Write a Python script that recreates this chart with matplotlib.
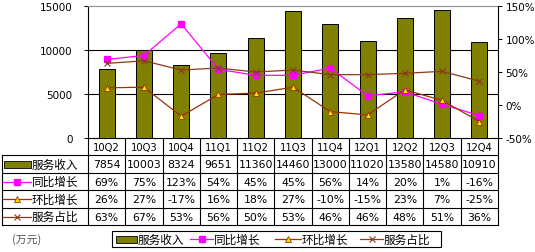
import matplotlib
matplotlib.use("Agg")
import matplotlib.pyplot as plt
from matplotlib.lines import Line2D
from matplotlib.patches import Rectangle
from matplotlib.ticker import FuncFormatter

quarters = ["10Q2", "10Q3", "10Q4", "11Q1", "11Q2", "11Q3", "11Q4", "12Q1", "12Q2", "12Q3", "12Q4"]
service_income = [7854, 10003, 8324, 9651, 11360, 14460, 13000, 11020, 13580, 14580, 10910]
yoy_growth = [69, 75, 123, 54, 45, 45, 56, 14, 20, 1, -16]
qoq_growth = [26, 27, -17, 16, 18, 27, -10, -15, 23, 7, -25]
service_share = [63, 67, 53, 56, 50, 53, 46, 46, 48, 51, 36]
series_names = ["服务收入", "同比增长", "环比增长", "服务占比"]
unit_label = "(万元)"

W, H = 535, 253
OLIVE = "#808000"
MAGENTA = "#FF00FF"
BROWN = "#993300"
BROWN2 = "#8B3A1A"
YELLOW = "#FFE000"
CJK = ["Noto Sans CJK SC", "DejaVu Sans"]
NUM = ["Liberation Sans Narrow", "DejaVu Sans"]

fig = plt.figure(figsize=(W / 100, H / 100), dpi=100)
fig.patch.set_facecolor("white")


def fx(x):
    return x / W


def fy(y):
    return 1 - y / H


left, right, top, bottom = 88, 498, 7, 139
ax = fig.add_axes([fx(left), fy(bottom), (right - left) / W, (bottom - top) / H])
n = len(quarters)
xs = list(range(n))

ax.bar(xs, service_income, width=0.43, color=OLIVE, edgecolor="black", linewidth=0.7, zorder=3)
ax.set_xlim(-0.5, n - 0.5)
ax.set_ylim(0, 15000)
ax.set_yticks([0, 5000, 10000, 15000])
ax.set_xticks([])
for v in (5000, 10000):
    ax.axhline(v, color="black", linewidth=0.8, zorder=1)
ax.tick_params(axis="y", labelsize=7.5, length=3, width=0.7, pad=8, colors="black")
for lab in ax.get_yticklabels():
    lab.set_family(["DejaVu Sans"])
ax.spines["top"].set_color("#909090")
ax.spines["right"].set_visible(False)
for s in ("left", "bottom"):
    ax.spines[s].set_linewidth(0.8)

ax2 = ax.twinx()
ax2.set_ylim(-50, 150)
ax2.set_yticks([-50, 0, 50, 100, 150])
ax2.yaxis.set_major_formatter(FuncFormatter(lambda v, p: f"{int(v)}%"))
ax2.tick_params(axis="y", labelsize=7.5, length=3, width=0.7, pad=2.5)
for s in ("top", "left", "bottom"):
    ax2.spines[s].set_visible(False)
ax2.spines["right"].set_linewidth(0.8)

ax2.plot(xs, yoy_growth, color=MAGENTA, linewidth=0.9, marker="s", markersize=5,
         markerfacecolor=MAGENTA, markeredgecolor=MAGENTA, zorder=5)
ax2.plot(xs, qoq_growth, color=BROWN, linewidth=0.9, marker="^", markersize=4.5,
         markerfacecolor=YELLOW, markeredgecolor=BROWN, markeredgewidth=0.6, zorder=5)
ax2.plot(xs, service_share, color=BROWN2, linewidth=0.9, marker="x", markersize=4,
         markeredgecolor=BROWN2, markeredgewidth=0.8, zorder=5)


# data table under the plot
def hline(y, x0, x1, lw=0.8, color="black"):
    fig.add_artist(Line2D([fx(x0), fx(x1)], [fy(y), fy(y)], transform=fig.transFigure,
                          color=color, linewidth=lw))


def vline(x, y0, y1, lw=0.8, color="black"):
    fig.add_artist(Line2D([fx(x), fx(x)], [fy(y0), fy(y1)], transform=fig.transFigure,
                          color=color, linewidth=lw))


col_w = (right - left) / n
row_edges = [156, 174, 191, 209, 226]
tab_left = 2

for y in row_edges:
    hline(y, tab_left, right)
vline(tab_left, row_edges[0], row_edges[-1])
for k in range(n + 1):
    vline(left + k * col_w, bottom, row_edges[-1])

for k, q in enumerate(quarters):
    fig.text(fx(left + (k + 0.5) * col_w), fy((bottom + row_edges[0]) / 2 + 0.5), q,
             ha="center", va="center", fontsize=7.2, family=["DejaVu Sans"])

rows = [
    [str(v) for v in service_income],
    [f"{v}%" for v in yoy_growth],
    [f"{v}%" for v in qoq_growth],
    [f"{v}%" for v in service_share],
]
for r, vals in enumerate(rows):
    yc = (row_edges[r] + row_edges[r + 1]) / 2
    for k, t in enumerate(vals):
        fig.text(fx(left + (k + 0.5) * col_w), fy(yc + 0.5), t, ha="center", va="center",
                 fontsize=7.8, family=NUM)


def draw_key(kind, x0, x1, yc):
    if kind == 0:
        fig.add_artist(Rectangle((fx(x0), fy(yc + 3.5)), (x1 - x0) / W, 7 / H,
                                 transform=fig.transFigure, facecolor=OLIVE,
                                 edgecolor="black", linewidth=0.6))
        return
    xm = (x0 + x1) / 2
    if kind == 1:
        kw = dict(color=MAGENTA, marker="s", markersize=5, markerfacecolor=MAGENTA,
                  markeredgecolor=MAGENTA)
    elif kind == 2:
        kw = dict(color=BROWN, marker="^", markersize=4.5, markerfacecolor=YELLOW,
                  markeredgecolor=BROWN, markeredgewidth=0.6)
    else:
        kw = dict(color=BROWN2, marker="x", markersize=4, markeredgecolor=BROWN2,
                  markeredgewidth=0.8)
    fig.add_artist(Line2D([fx(x0), fx(x1)], [fy(yc), fy(yc)], transform=fig.transFigure,
                          linewidth=0.9, color=kw.pop("color")))
    fig.add_artist(Line2D([fx(xm)], [fy(yc)], transform=fig.transFigure, linestyle="none", **kw))


for r, name in enumerate(series_names):
    yc = (row_edges[r] + row_edges[r + 1]) / 2
    draw_key(r, 4 if r == 0 else 3, 31, yc)
    fig.text(fx(32), fy(yc), name, ha="left", va="center", fontsize=8.4, family=CJK)

fig.text(fx(12), fy(240), unit_label, ha="left", va="center", fontsize=7.8,
         family=CJK, color="#555555")

# legend box
lg_x0, lg_x1, lg_y0, lg_y1 = 112, 441, 232, 248
fig.add_artist(Rectangle((fx(lg_x0), fy(lg_y1)), (lg_x1 - lg_x0) / W, (lg_y1 - lg_y0) / H,
                         transform=fig.transFigure, facecolor="white", edgecolor="black",
                         linewidth=0.8))
lg_keys = [(116, 137), (190, 213), (275, 301), (360, 383)]
lg_y = (lg_y0 + lg_y1) / 2
for i, (name, (k0, k1)) in enumerate(zip(series_names, lg_keys)):
    draw_key(i, k0, k1, lg_y)
    fig.text(fx(k1 + 1), fy(lg_y), name, ha="left", va="center", fontsize=8.4, family=CJK)

fig.savefig("out.png", dpi=100, facecolor="white")
